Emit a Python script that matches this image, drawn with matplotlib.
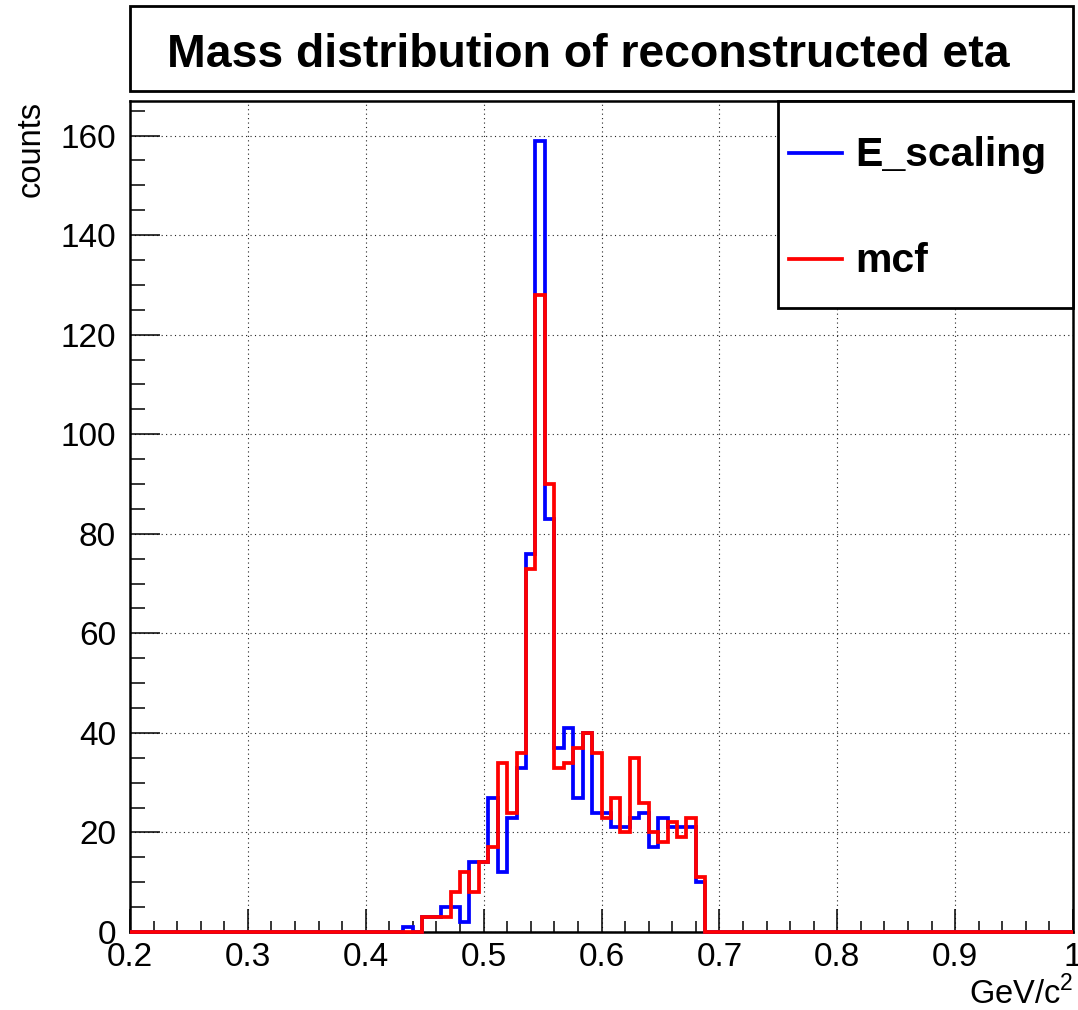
import numpy as np
import matplotlib
matplotlib.use('Agg')
import matplotlib.pyplot as plt
from matplotlib.ticker import MultipleLocator, FuncFormatter
from matplotlib.patches import Rectangle
from matplotlib.lines import Line2D

plt.rcParams['font.family'] = 'Liberation Sans'
plt.rcParams['mathtext.fontset'] = 'custom'
plt.rcParams['mathtext.rm'] = 'Liberation Sans'

# binning of the eta mass histograms (GeV/c^2)
x_min, x_max, n_bins = 0.2, 1.0, 100
first_bin = 29  # everything below 0.432 is empty

# bin contents from 0.432 up to 0.688, bins above are empty
e_scaling = [1, 0, 3, 3, 5, 5, 2, 14, 14, 27, 12, 23, 33, 76, 159, 83,
             37, 41, 27, 40, 24, 24, 21, 21, 23, 24, 17, 23, 21, 21, 21, 10]
mcf = [0, 0, 3, 3, 3, 8, 12, 8, 14, 17, 34, 24, 36, 73, 128, 90,
       33, 34, 37, 40, 36, 23, 27, 20, 35, 26, 20, 18, 22, 19, 23, 11]

labels = ['E_scaling', 'mcf']
colors = ['blue', 'red']

edges = np.linspace(x_min, x_max, n_bins + 1)


def full_hist(vals):
    h = np.zeros(n_bins)
    h[first_bin:first_bin + len(vals)] = vals
    return h


W, H = 1078, 1010
fig = plt.figure(figsize=(W / 100, H / 100), dpi=100)
ax = fig.add_axes([130 / W, 1 - 932 / H, 943 / W, 831 / H])

for vals, c in zip([e_scaling, mcf], colors):
    ax.stairs(full_hist(vals), edges, color=c, lw=2.7, zorder=3, clip_on=False)

ax.set_xlim(x_min, x_max)
ax.set_ylim(0, 1.05 * max(e_scaling))

ax.xaxis.set_major_locator(MultipleLocator(0.1))
ax.xaxis.set_minor_locator(MultipleLocator(0.02))
ax.yaxis.set_major_locator(MultipleLocator(20))
ax.yaxis.set_minor_locator(MultipleLocator(5))
ax.xaxis.set_major_formatter(FuncFormatter(lambda v, p: f'{v:g}'))

ax.grid(True, which='major', ls=(0, (1, 3)), lw=0.8, color='#222222')
ax.tick_params(which='both', direction='in', top=False, right=False, width=1.1, labelsize=24)
ax.tick_params(axis='x', which='major', length=16.5, pad=7)
ax.tick_params(axis='x', which='minor', length=8)
ax.tick_params(axis='y', which='major', length=21.5, pad=10)
ax.tick_params(axis='y', which='minor', length=10.5)
for s in ax.spines.values():
    s.set_linewidth(1.8)

ax.set_ylabel('counts', loc='top', fontsize=23.5, labelpad=10)
ax.set_xlabel('GeV/c$^{2}$', loc='right', fontsize=23.5, labelpad=2)

# title box
fig.add_artist(Rectangle((130 / W, 1 - 91 / H), 943 / W, 85 / H, transform=fig.transFigure,
                         fill=False, lw=2, ec='black'))
fig.text(588 / W, 1 - 67 / H, 'Mass distribution of reconstructed eta', ha='center',
         va='baseline', fontsize=33.4, fontweight='bold')

# legend box
fig.add_artist(Rectangle((778 / W, 1 - 308 / H), 295 / W, 207 / H, transform=fig.transFigure,
                         fc='white', lw=2, ec='black', zorder=5))
for i, (lab, c) in enumerate(zip(labels, colors)):
    y = 153 + 106 * i
    fig.add_artist(Line2D([789 / W, 842 / W], [1 - y / H] * 2, transform=fig.transFigure,
                          color=c, lw=2.7, zorder=6))
    fig.text(855 / W, 1 - (y + 13) / H, lab, va='baseline', fontsize=29.5,
             fontweight='bold', zorder=6)

fig.savefig('out.png', dpi=100)
